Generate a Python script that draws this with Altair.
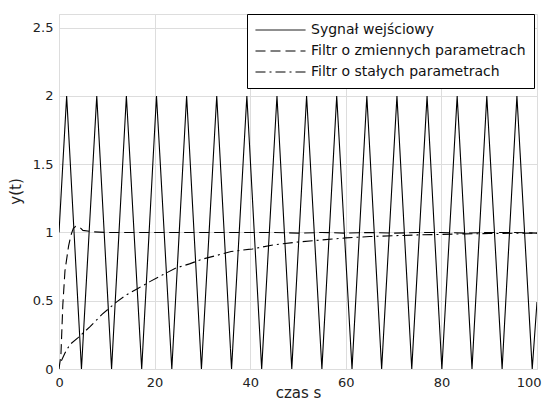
import altair as alt
import pandas as pd

SERIES = ["Sygnał wejściowy", "Filtr o zmiennych parametrach", "Filtr o stałych parametrach"]

# Input signal: start, alternating peaks (2) and troughs (0), end value
input_x = [0, 1.6, 4.7, 7.9, 11.0, 14.1, 17.3, 20.4, 23.6, 26.7, 29.8, 33.0, 36.1,
           39.3, 42.4, 45.6, 48.7, 51.8, 55.0, 58.1, 61.3, 64.4, 67.5, 70.7, 73.8,
           77.0, 80.1, 83.3, 86.4, 89.5, 92.7, 95.8, 99.0, 100]
input_y = [1, 2, 0, 2, 0, 2, 0, 2, 0, 2, 0, 2, 0,
           2, 0, 2, 0, 2, 0, 2, 0, 2, 0, 2, 0,
           2, 0, 2, 0, 2, 0, 2, 0, 0.49]

# Filter with variable parameters (fast)
fast_x = [0, 0.4, 0.8, 1.25, 2.0, 2.5, 3.0, 3.5, 4.3, 5.0, 7.0, 10, 15, 20, 25, 30,
          35, 40, 45, 50, 55, 60, 65, 70, 75, 80, 85, 90, 95, 100]
fast_y = [0.0, 0.1, 0.47, 0.72, 0.9, 0.98, 1.03, 1.045, 1.04, 1.015, 1.005, 1.0, 1.0, 1.0,
          1.0, 1.0, 1.0, 1.0, 1.0, 0.995, 1.0, 0.995, 1.0, 0.995, 1.0, 1.0, 0.995, 1.0, 1.0, 0.995]

# Filter with constant parameters (slow)
slow_x = [0.5, 1.3, 2.3, 4, 6.5, 9, 12, 14, 16.5, 19, 21.7, 24.5, 27.3, 30, 32.8, 36,
          40.5, 45, 50, 55, 60, 65, 70, 75, 80, 85, 90, 95, 100]
slow_y = [0.06, 0.12, 0.18, 0.23, 0.31, 0.4, 0.49, 0.54, 0.59, 0.64, 0.69, 0.74, 0.77,
          0.805, 0.83, 0.86, 0.88, 0.91, 0.93, 0.945, 0.96, 0.97, 0.976, 0.982, 0.986,
          0.99, 0.992, 0.994, 0.995]

x_ticks = [0, 20, 40, 60, 80, 100]
y_ticks = [0, 0.5, 1, 1.5, 2, 2.5]

rows = []
for name, xs, ys in zip(SERIES, [input_x, fast_x, slow_x], [input_y, fast_y, slow_y]):
    for i, (a, b) in enumerate(zip(xs, ys)):
        rows.append({"series": name, "t": a, "y": b, "i": i})
df = pd.DataFrame(rows)

FONT = "DejaVu Sans"

chart = alt.Chart(df).mark_line(color="black", strokeWidth=1.1, clip=True).encode(
    x=alt.X("t:Q",
            scale=alt.Scale(domain=[0, 100], nice=False, zero=False),
            axis=alt.Axis(values=x_ticks, title="czas s", grid=True, ticks=False, domain=False,
                          labelPadding=7, labelFontSize=13, labelFont=FONT, labelColor="#222",
                          labelFlush=True, labelFlushOffset=4,
                          titleFont=FONT, titleFontSize=15, titleFontWeight="normal", titleColor="#222",
                          titleX=239, titleY=28, titleBaseline="alphabetic")),
    y=alt.Y("y:Q",
            scale=alt.Scale(domain=[0, 2.6], nice=False),
            axis=alt.Axis(values=y_ticks, format=".1~f", title="y(t)", grid=True, ticks=False, domain=False,
                          labelPadding=6, labelFontSize=13, labelFont=FONT, labelColor="#222",
                          titleFont=FONT, titleFontSize=15, titleFontWeight="normal", titleColor="#222",
                          titleX=-36, titleY=177, titleBaseline="bottom")),
    strokeDash=alt.StrokeDash("series:N",
                              scale=alt.Scale(domain=SERIES, range=[[1, 0], [10, 5], [10, 4, 2, 4]]),
                              sort=SERIES,
                              legend=alt.Legend(title=None, orient="none", legendX=188, legendY=0,
                                                symbolType="stroke", symbolSize=2500,
                                                symbolStrokeWidth=1, symbolStrokeColor="black",
                                                labelFont=FONT, labelFontSize=14, labelColor="#111",
                                                labelOffset=5, padding=8, rowPadding=5, clipHeight=16,
                                                strokeColor="black", fillColor="white", cornerRadius=0,
                                                labelLimit=400)),
    detail="series:N",
    order="i:Q",
).properties(
    width=478,
    height=355,
    autosize=alt.AutoSizeParams(type="none"),
    padding={"left": 51, "top": 6, "right": 5, "bottom": 33},
).configure_view(
    stroke="black", strokeWidth=1
).configure_axis(
    gridColor="#000", gridDash=[1, 3], gridOpacity=0.85, gridWidth=1
).configure(background="white")

chart.save("out.html", embed_options={"renderer": "svg", "actions": False})
